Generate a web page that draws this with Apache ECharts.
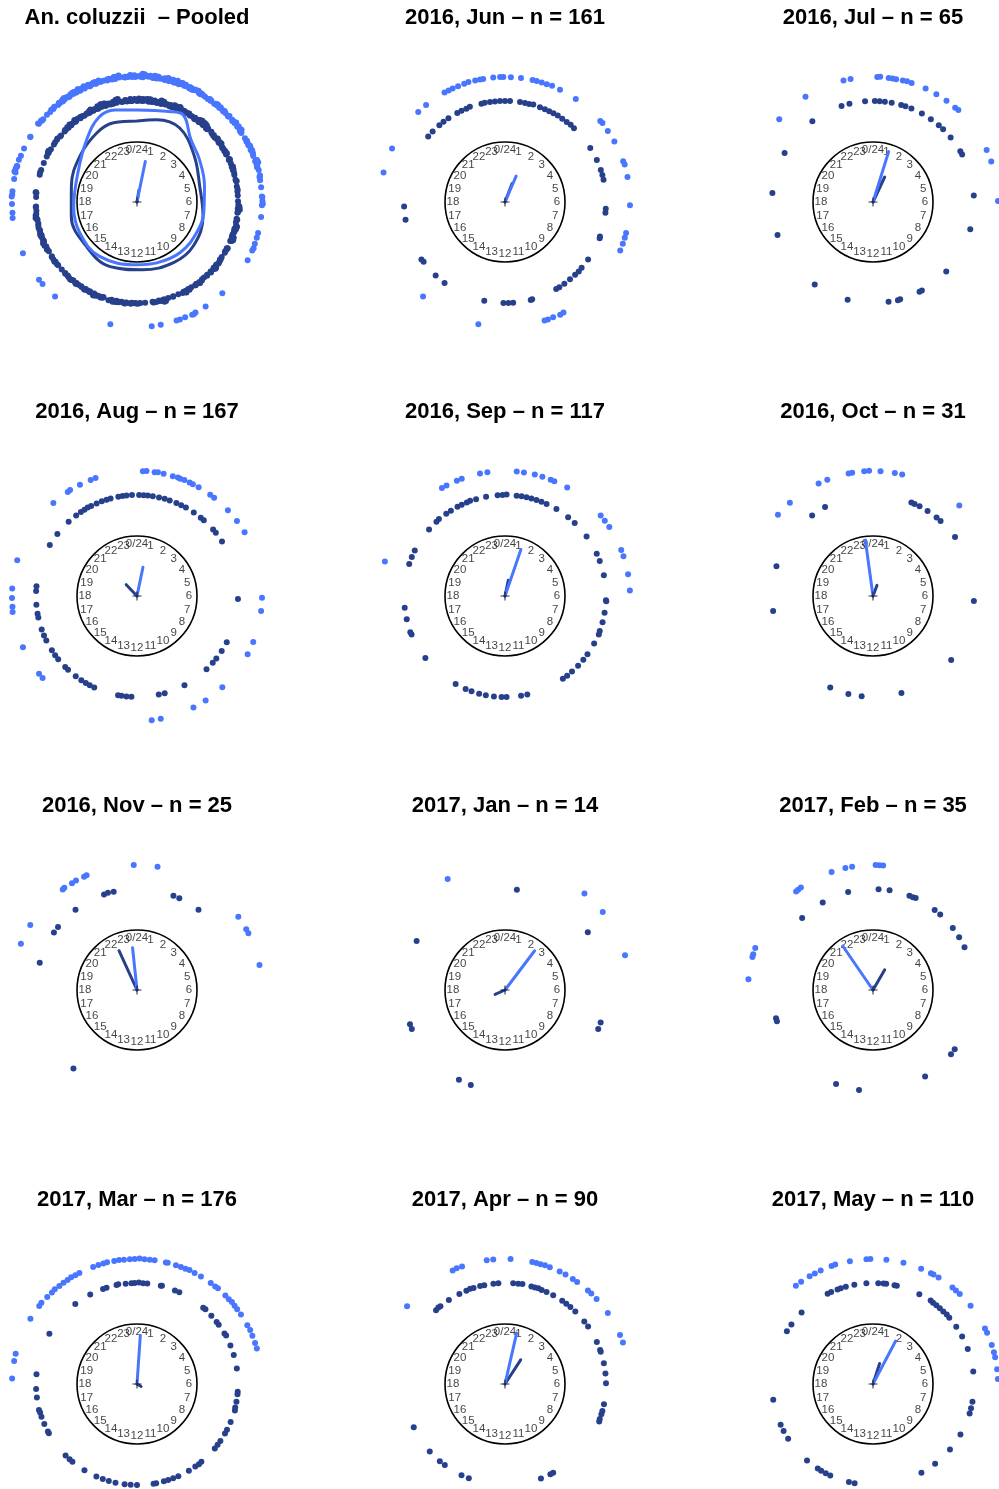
<!DOCTYPE html>
<html>
<head>
<meta charset="utf-8">
<script src="https://cdn.jsdelivr.net/npm/echarts@6/dist/echarts.min.js"></script>
<style>
html, body { margin: 0; padding: 0; background: #ffffff; }
#chart { width: 999px; height: 1489px; }
</style>
</head>
<body>
<div id="chart"></div>
<script>
// Panel titles, in reading order (3 columns x 4 rows)
const panelTitles = [
  'An. coluzzii  \u2013 Pooled',
  '2016, Jun \u2013 n = 161', '2016, Jul \u2013 n = 65',
  '2016, Aug \u2013 n = 167', '2016, Sep \u2013 n = 117', '2016, Oct \u2013 n = 31',
  '2016, Nov \u2013 n = 25', '2017, Jan \u2013 n = 14', '2017, Feb \u2013 n = 35',
  '2017, Mar \u2013 n = 176', '2017, Apr \u2013 n = 90', '2017, May \u2013 n = 110'
];

// Clock-face hour labels (0..23)
const hourLabels = ['0/24', '1', '2', '3', '4', '5', '6', '7', '8', '9', '10', '11',
  '12', '13', '14', '15', '16', '17', '18', '19', '20', '21', '22', '23'];

// Observation times (decimal hours) per month: navy = inner ring, blue = outer ring
const jun16Dark = [20.7, 20.95, 21.3, 21.5, 21.73, 22.12, 22.3, 22.5, 22.65, 23.1, 23.23, 23.43, 23.62, 23.81, 0, 0.19, 0.57, 0.76, 0.92, 1.08, 1.35, 1.55, 1.73, 1.91, 2.09, 2.3, 2.51, 2.69, 2.87, 3.84, 4.36, 4.77, 4.97, 5.15, 6.26, 6.41, 7.33, 7.4, 8.31, 8.71, 8.89, 9.07, 9.33, 9.6, 9.83, 9.97, 10.96, 11.02, 11.69, 11.87, 12.06, 12.79, 14.45, 14.89, 15.58, 15.7, 17.33, 17.83];
const jun16Light = [18.91, 19.69, 21.07, 21.39, 22.07, 22.21, 22.35, 22.53, 22.73, 22.87, 23.08, 23.23, 23.33, 23.64, 23.85, 23.95, 0.18, 0.49, 0.85, 0.98, 1.14, 1.3, 1.47, 1.74, 2.3, 3.31, 3.4, 3.69, 4.07, 4.73, 4.84, 5.23, 6.1, 6.96, 7.11, 7.3, 7.52, 10.14, 10.26, 10.49, 10.66, 10.77, 12.82, 14.73];

const jul16Dark = [18.34, 16.73, 19.93, 21.54, 22.79, 23.1, 23.7, 0.07, 0.25, 0.45, 0.71, 1.08, 1.25, 1.49, 1.93, 2.33, 2.71, 2.93, 3.35, 3.99, 4.13, 5.75, 7.04, 8.9, 10.07, 10.17, 10.96, 11.05, 11.41, 12.97, 14.35];
const jul16Light = [20.76, 21.82, 23.09, 23.31, 0.13, 0.22, 0.48, 0.6, 0.71, 0.92, 1.05, 1.2, 1.66, 2.03, 2.4, 2.74, 2.86, 4.36, 4.74, 5.97];

const aug16Dark = [20.02, 20.53, 21.16, 21.53, 21.75, 21.91, 22.06, 22.2, 22.43, 22.64, 22.83, 22.99, 23.29, 23.45, 23.6, 23.81, 0.08, 0.25, 0.41, 0.6, 0.84, 1.06, 1.26, 1.53, 1.73, 1.93, 2.28, 2.61, 2.76, 3.26, 3.42, 3.82, 6.11, 7.82, 8.2, 8.55, 8.76, 9.1, 10.13, 10.94, 11.17, 12.21, 12.4, 12.59, 12.72, 13.67, 13.86, 14.03, 14.23, 14.49, 14.87, 15.02, 15.42, 15.61, 15.83, 16.26, 16.47, 16.71, 17.18, 17.33, 17.67, 18.19, 18.37];
const aug16Light = [19.11, 18.23, 17.94, 17.67, 17.51, 16.39, 15.44, 15.27, 21.2, 21.76, 21.85, 22.19, 22.55, 22.71, 0.18, 0.29, 0.54, 0.64, 0.82, 1.11, 1.27, 1.35, 1.48, 1.66, 1.77, 1.97, 2.39, 2.54, 3.11, 3.54, 3.96, 6.05, 6.46, 7.44, 7.85, 9.13, 9.78, 10.21, 11.27, 11.55];

const sep16Dark = [20.75, 21.15, 21.29, 21.63, 21.84, 22.13, 22.31, 22.52, 22.66, 22.89, 23.28, 23.72, 23.91, 0.06, 0.44, 0.63, 0.82, 1.01, 1.21, 1.41, 1.62, 2.04, 2.58, 2.91, 3.59, 4.35, 4.65, 5.21, 6.16, 6.2, 6.64, 7.0, 7.35, 7.49, 7.87, 8.35, 8.61, 8.91, 9.23, 9.47, 9.67, 11.15, 11.39, 11.94, 12.13, 12.42, 12.73, 12.99, 13.29, 13.53, 13.95, 15.47, 16.51, 16.6, 17.11, 17.55, 19.23, 19.51, 19.78];
const sep16Light = [19.07, 21.98, 22.14, 22.49, 22.65, 23.23, 23.46, 0.36, 0.58, 0.92, 1.16, 1.43, 1.55, 1.99, 3.33, 3.53, 3.77, 4.56, 4.76, 5.33, 5.83];

const oct16Dark = [19.14, 17.43, 21.53, 22.11, 1.49, 1.62, 1.83, 2.18, 2.6, 2.8, 3.62, 6.19, 8.62, 10.91, 12.43, 12.94, 13.67];
const oct16Light = [20.7, 21.22, 22.28, 22.57, 23.25, 23.36, 23.73, 23.88, 0.23, 0.67, 0.9, 2.91];

const nov16Dark = [19.04, 20.31, 20.57, 21.5, 22.73, 22.89, 23.11, 1.41, 1.65, 2.5, 14.6];
const nov16Light = [19.45, 20.09, 21.57, 21.64, 21.91, 22.06, 22.33, 22.42, 23.9, 0.63, 3.61, 4.06, 4.2, 5.23];

const jan17Dark = [0.45, 3.67, 19.93, 16.68, 16.49, 7.25, 7.51, 13.81, 13.32];
const jan17Light = [22.18, 2.63, 3.43, 4.92];

const feb17Dark = [21.03, 22.01, 23.05, 0.21, 0.63, 1.41, 1.55, 1.66, 2.51, 2.78, 3.48, 3.9, 4.33, 8.4, 8.63, 9.93, 12.53, 13.43, 16.92, 16.8];
const feb17Light = [18.33, 19.02, 19.11, 19.31, 21.47, 21.55, 21.66, 22.71, 23.15, 23.36, 0.08, 0.2, 0.31];

const mar17Dark = [19.99, 21.49, 22.16, 22.69, 22.83, 23.22, 23.29, 23.57, 23.79, 23.91, 0.07, 0.23, 0.39, 0.91, 0.95, 1.47, 1.65, 2.73, 2.83, 3.16, 3.47, 3.6, 4.0, 4.1, 4.51, 4.89, 5.41, 6.29, 6.39, 6.67, 6.9, 7.01, 7.47, 7.8, 7.96, 8.29, 8.47, 8.64, 9.36, 9.49, 9.65, 9.94, 10.39, 10.6, 10.8, 10.97, 11.27, 11.37, 12.0, 12.24, 12.47, 12.82, 13.08, 13.32, 13.58, 14.09, 14.65, 14.79, 15.0, 16.05, 16.13, 16.44, 16.74, 16.91, 17.01, 17.49, 17.81, 18.37];
const mar17Light = [18.17, 18.71, 18.93, 20.1, 20.57, 20.69, 20.94, 21.14, 21.27, 21.44, 21.6, 21.75, 21.89, 22.03, 22.17, 22.63, 22.8, 22.96, 23.08, 23.3, 23.45, 23.6, 23.78, 23.93, 0.08, 0.23, 0.39, 0.54, 0.89, 0.95, 1.21, 1.37, 1.52, 1.65, 1.83, 2.05, 2.41, 2.58, 2.68, 3.0, 3.15, 3.28, 3.42, 3.55, 3.75, 4.13, 4.3, 4.49, 4.72, 4.9];

const apr17Dark = [21.13, 21.26, 21.35, 21.75, 22.21, 22.5, 22.66, 22.79, 23.05, 23.21, 23.56, 23.75, 0.31, 0.5, 0.66, 1.01, 1.15, 1.28, 1.42, 1.62, 1.9, 2.3, 2.49, 2.69, 2.94, 3.45, 3.69, 4.36, 4.69, 4.76, 5.21, 5.6, 5.97, 6.77, 7.03, 7.16, 7.35, 7.45, 10.1, 10.22, 10.61, 13.4, 13.7, 14.44, 14.68, 15.21, 16.31];
const apr17Light = [20.56, 22.35, 22.49, 22.66, 23.44, 23.64, 0.17, 0.84, 0.97, 1.1, 1.24, 1.4, 1.73, 1.93, 2.19, 2.35, 2.77, 2.91, 3.14, 3.69, 4.46, 4.71];

const may17Dark = [17.4, 16.41, 16.15, 15.81, 14.72, 14.21, 14.06, 13.86, 13.67, 12.92, 12.7, 10.09, 9.47, 8.69, 8.0, 7.13, 6.93, 6.67, 5.53, 4.65, 4.13, 3.7, 3.27, 3.11, 2.94, 2.76, 2.59, 2.43, 2.31, 1.82, 0.91, 0.82, 0.5, 0.4, 0.2, 23.75, 23.29, 22.96, 22.76, 22.63, 22.37, 22.22, 21.0, 20.41, 20.1];
const may17Light = [21.46, 21.66, 21.97, 22.15, 22.35, 22.71, 22.83, 23.29, 23.8, 23.92, 0.41, 0.94, 1.51, 1.84, 1.93, 2.11, 2.63, 2.77, 2.93, 3.42, 4.24, 4.39, 4.79, 5.02, 5.18, 5.55, 5.85];

// Pooled panel = all months together
const monthlyDark = [jun16Dark, jul16Dark, aug16Dark, sep16Dark, oct16Dark, nov16Dark, jan17Dark, feb17Dark, mar17Dark, apr17Dark, may17Dark];
const monthlyLight = [jun16Light, jul16Light, aug16Light, sep16Light, oct16Light, nov16Light, jan17Light, feb17Light, mar17Light, apr17Light, may17Light];
const pooledDark = [].concat(...monthlyDark);
const pooledLight = [].concat(...monthlyLight);

// Mean direction (hours) and mean resultant length (0..1), panel order as titles
const meanDirDark = [0.6, 1.4, 1.67, 21.1, 0.8, 1.37, 22.36, 16.4, 2.0, 8.1, 2.2, 1.19];
const meanLenDark = [0.2, 0.33, 0.46, 0.26, 0.27, 0.19, 0.72, 0.18, 0.39, 0.08, 0.48, 0.36];
const meanDirLight = [0.77, 1.55, 1.15, 0.78, 1.26, 23.48, 23.6, 2.47, 21.7, 0.26, 0.86, 1.85];
const meanLenLight = [0.69, 0.47, 0.88, 0.49, 0.82, 0.94, 0.71, 0.82, 0.89, 0.81, 0.87, 0.81];

// Pooled kernel-density outlines: [hour, curve radius]
const densityDark = [[0, 81], [0.9, 84.6], [2, 85.4], [3.4, 73.6], [5.1, 64.6], [6.8, 67.5], [8.5, 71.4], [9.9, 70.8], [11.7, 68], [13.5, 70], [15.3, 67.3], [17.2, 67.2], [18.9, 67.5], [20.6, 73.3], [22, 80], [22.9, 82.6], [24, 81]];
const densityLight = [[0, 92], [1.3, 96], [1.85, 98.7], [2.7, 82.7], [3.7, 75.6], [5.1, 69.4], [6.6, 67.6], [7.8, 67], [9.3, 66.5], [10.8, 64], [12, 62.7], [14.3, 66], [16.1, 65], [17.7, 63.5], [19.7, 65.7], [21.4, 80], [22.4, 93], [23.1, 94.6], [24, 92]];

// ---- layout & style ----
const colX = [137, 505, 873];
const rowY = [202, 596, 990, 1384];
const CLOCK_R = 60;      // clock face radius (px)
const DATA_R = 140;      // outer polar radius (px), radius axis in px units
const DARK_RING = 101, LIGHT_RING = 125;
const DARK = '#27408B', LIGHT = '#4876FF';
const FONT = '"Liberation Sans", Arial, Helvetica, sans-serif';

const panelDark = [pooledDark].concat(monthlyDark);
const panelLight = [pooledLight].concat(monthlyLight);

// Stack coincident observations outward from the ring
function stacked(hours, base) {
  const binW = 0.2, sep = 0.42, counts = {};
  return hours.map(function (h) {
    const b = Math.round(h / binW) % Math.round(24 / binW);
    const k = counts[b] || 0;
    counts[b] = k + 1;
    return [base + k * sep, h];
  });
}

const option = {
  animation: false,
  backgroundColor: '#ffffff',
  title: [], polar: [], angleAxis: [], radiusAxis: [], series: []
};

panelTitles.forEach(function (t, i) {
  const cx = colX[i % 3], cy = rowY[Math.floor(i / 3)];
  const pc = option.polar.length;     // clock polar
  const pd = pc + 1;                  // data polar

  option.title.push({
    text: t, left: cx, top: cy - 195, textAlign: 'center', padding: 0,
    textStyle: { fontSize: 22, fontWeight: 'bold', color: '#000', fontFamily: FONT }
  });

  option.polar.push({ center: [cx, cy], radius: CLOCK_R });
  option.polar.push({ center: [cx, cy], radius: DATA_R });

  option.angleAxis.push({
    polarIndex: pc, type: 'value', min: 0, max: 24, startAngle: 90, clockwise: true,
    axisLine: { show: true, lineStyle: { color: '#000', width: 1.6 } },
    axisTick: { show: false }, axisLabel: { show: false }, splitLine: { show: false }
  });
  option.angleAxis.push({
    polarIndex: pd, type: 'value', min: 0, max: 24, startAngle: 90, clockwise: true,
    axisLine: { show: false }, axisTick: { show: false }, axisLabel: { show: false }, splitLine: { show: false }
  });
  option.radiusAxis.push({
    polarIndex: pc, type: 'value', min: 0, max: 1,
    axisLine: { show: false }, axisTick: { show: false }, axisLabel: { show: false }, splitLine: { show: false }
  });
  option.radiusAxis.push({
    polarIndex: pd, type: 'value', min: 0, max: DATA_R,
    axisLine: { show: false }, axisTick: { show: false }, axisLabel: { show: false }, splitLine: { show: false }
  });

  // density outlines (pooled panel)
  if (i === 0) {
    [[densityDark, DARK], [densityLight, LIGHT]].forEach(function (d) {
      option.series.push({
        type: 'line', coordinateSystem: 'polar', polarIndex: pd,
        data: d[0].map(function (p) { return [p[1], p[0]]; }),
        smooth: 0.4, showSymbol: false, symbol: 'none', clip: false,
        lineStyle: { color: d[1], width: 3 }, z: 3
      });
    });
  }

  // observation dots
  option.series.push({
    type: 'scatter', coordinateSystem: 'polar', polarIndex: pd,
    data: stacked(panelDark[i], DARK_RING), symbolSize: 6,
    itemStyle: { color: DARK, opacity: 1 }, z: 2
  });
  option.series.push({
    type: 'scatter', coordinateSystem: 'polar', polarIndex: pd,
    data: stacked(panelLight[i], LIGHT_RING), symbolSize: 6,
    itemStyle: { color: LIGHT, opacity: 1 }, z: 2
  });

  // clock hour labels
  option.series.push({
    type: 'scatter', coordinateSystem: 'polar', polarIndex: pc,
    data: hourLabels.map(function (_, h) { return [0.867, h]; }),
    symbolSize: 0, silent: true,
    label: {
      show: true, position: 'inside', color: '#111', fontSize: 11.5, fontFamily: FONT,
      formatter: function (p) { return hourLabels[p.dataIndex]; }
    }, z: 4
  });

  // mean direction arrows
  [[meanDirDark, meanLenDark, DARK], [meanDirLight, meanLenLight, LIGHT]].forEach(function (a) {
    option.series.push({
      type: 'line', coordinateSystem: 'polar', polarIndex: pc,
      data: [[0, a[0][i]], [a[1][i], a[0][i]]],
      showSymbol: false, symbol: 'none', clip: false,
      lineStyle: { color: a[2], width: 3, cap: 'round' }, z: 5
    });
  });

  // centre cross
  option.series.push({
    type: 'scatter', coordinateSystem: 'polar', polarIndex: pc,
    data: [[0, 0]], symbol: 'path://M0,4.4H10V5.6H0Z M4.4,0H5.6V10H4.4Z', symbolSize: 9,
    itemStyle: { color: '#000' }, silent: true, z: 6
  });
});

const chart = echarts.init(document.getElementById('chart'), null, { renderer: 'canvas' });
chart.setOption(option);
</script>
</body>
</html>
